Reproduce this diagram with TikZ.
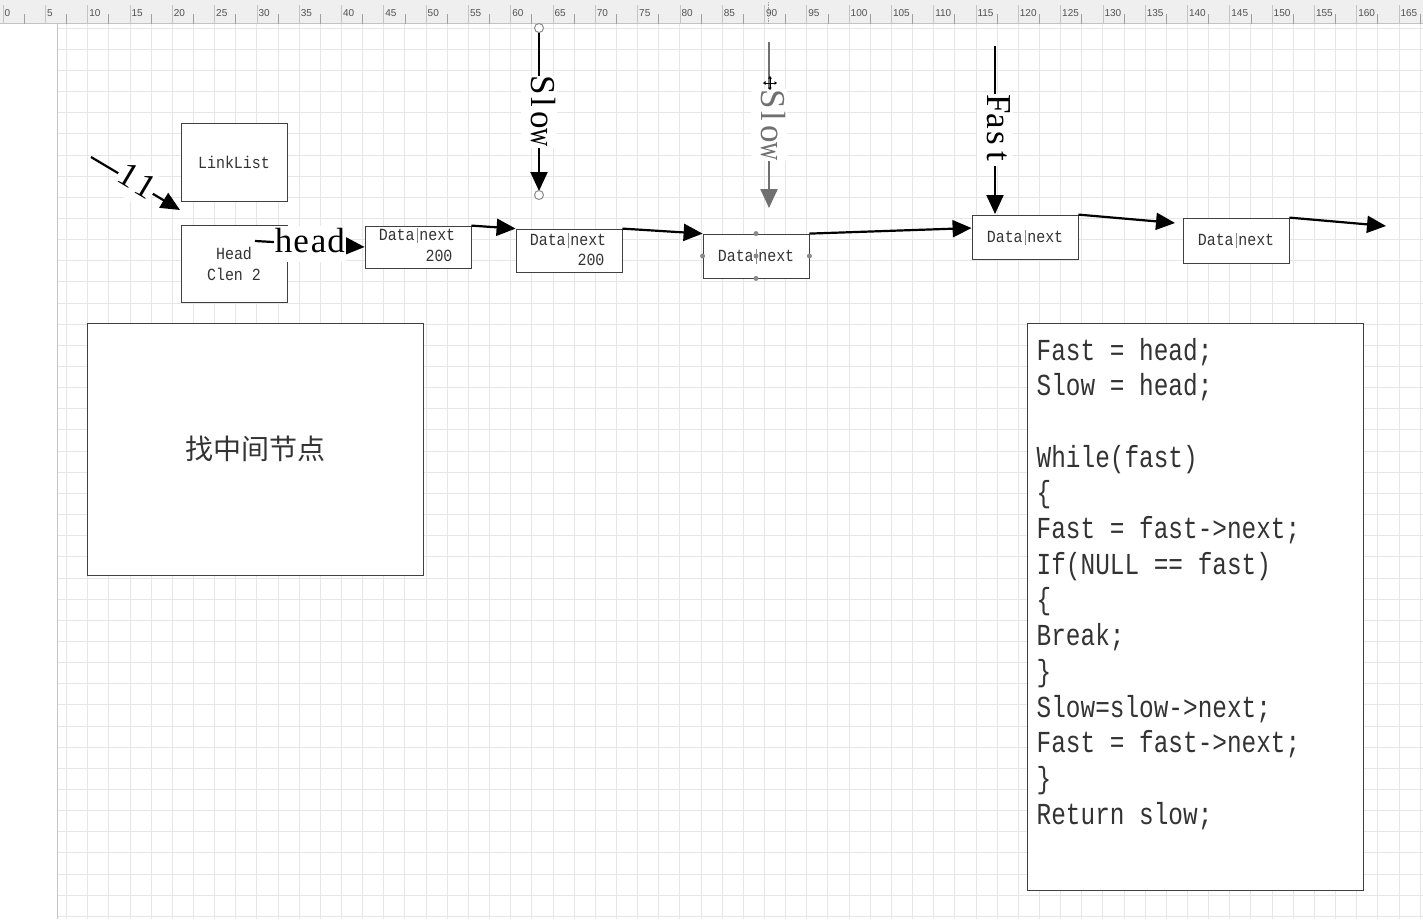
\documentclass[tikz,border=0pt]{standalone}
\usepackage{fontspec}
\usepackage{graphicx}
\setmainfont{Liberation Serif}
\newfontfamily\monof{Liberation Mono}
\newfontfamily\codef[FakeStretch=0.8]{Liberation Mono}
\newfontfamily\boxf[FakeStretch=0.88]{Liberation Mono}
\newfontfamily\cjkf{Noto Sans CJK SC}
\newfontfamily\rulerf{Liberation Sans}
\newfontfamily\spacedf[LetterSpace=12]{Liberation Serif}
\usetikzlibrary{arrows.meta,calc}
\definecolor{gridc}{HTML}{E6E6E6}
\definecolor{rulerbg}{HTML}{EFEFEF}
\definecolor{rulerline}{HTML}{C4C4C4}
\definecolor{rulertick}{HTML}{A0A0A0}
\definecolor{rulertxt}{HTML}{505050}
\definecolor{boxc}{HTML}{404040}
\definecolor{txtc}{HTML}{333333}
\definecolor{sepc}{HTML}{888888}
\definecolor{slowgray}{HTML}{707070}
\definecolor{handlec}{HTML}{8A8A8A}
\newcommand\halfw[1]{\makebox[0.5em]{#1}}
\newcommand\narroww{\makebox[0.5em]{\scalebox{0.72}[1]{w}}}
\newcommand\dsep{\hspace{2.5pt}\textcolor{sepc}{\rule[-2.5pt]{0.6pt}{15pt}}\hspace{1.5pt}}
\begin{document}
\begin{tikzpicture}[x=1pt,y=-1pt,
  box/.style={draw=boxc, fill=white, line width=0.8pt, inner sep=0pt, text=txtc, font=\boxf\fontsize{17}{21}\selectfont},
  boxtext/.style={inner sep=0pt, text=txtc, font=\boxf\fontsize{17}{21}\selectfont},
  link/.style={line width=2.2pt, -{Triangle[length=19pt,width=17pt]}},
  lbl/.style={fill=white, inner sep=1pt, font=\fontsize{35}{40}\selectfont, text height=25pt, text depth=9pt},
  code/.style={anchor=base west, inner sep=0pt, text=txtc, font=\codef\fontsize{30.5}{34}\selectfont},
  handle/.style={circle, fill=handlec, inner sep=0pt, minimum size=5pt},
  endpt/.style={circle, draw=handlec, fill=white, line width=1pt, inner sep=0pt, minimum size=9pt},
  rlabel/.style={anchor=west, inner sep=0pt, font=\rulerf\fontsize{10}{11}\selectfont, text=rulertxt}
]
\useasboundingbox (0,0) rectangle (1423,919);
\fill[white] (0,0) rectangle (1423,919);

% grid
\foreach \k in {3,...,67} {
  \draw[gridc, line width=0.8pt] ({3+21.15*\k},24) -- ({3+21.15*\k},919);
}
\foreach \k in {0,...,42} {
  \draw[gridc, line width=0.8pt] (57,{28+21.15*\k}) -- (1423,{28+21.15*\k});
}
\draw[rulerline, line width=0.8pt] (57,24) -- (57,919);

% ruler
\fill[rulerbg] (0,0) rectangle (1423,23.5);
\draw[rulerline, line width=0.8pt] (0,23.5) -- (1423,23.5);
\foreach \u in {0,5,...,165} {
  \draw[rulerline, line width=0.6pt] ({3+8.46*\u},5) -- ({3+8.46*\u},23.5);
  \draw[rulertick, line width=0.6pt] ({3+8.46*\u+21.15},14) -- ({3+8.46*\u+21.15},23.5);
  \node[rlabel] (r\u) at ({4.5+8.46*\u},13) {\u};
}
\draw[rulertick, densely dotted, line width=0.6pt] (768,2) -- (768,23);

% boxes
\node[box, minimum width=106pt, minimum height=78pt] (LL) at (234,162) {LinkList};
\node[box, minimum width=106pt, minimum height=77pt, align=center] (HD) at (234,263.5) {Head\\Clen 2};
\node[box, minimum width=106pt, minimum height=42pt] (D1) at (418,247) {};
\node[boxtext] (t1) at (417,235) {Data\dsep next};
\node[boxtext] (v1) at (439,256) {200};
\node[box, minimum width=106pt, minimum height=43pt] (D2) at (569,250.5) {};
\node[boxtext] (t2) at (568,240) {Data\dsep next};
\node[boxtext] (v2) at (591,260) {200};
\node[box, minimum width=106pt, minimum height=44pt] (D3) at (756,256) {Data\dsep next};
\node[box, minimum width=106pt, minimum height=44pt] (D4) at (1025,237) {Data\dsep next};
\node[box, minimum width=106pt, minimum height=45pt] (D5) at (1236,240.5) {Data\dsep next};

% selection handles on D3
\node[handle] (h1) at (D3.west) {};
\node[handle] (h2) at (D3.east) {};
\node[handle] (h3) at (D3.north) {};
\node[handle] (h4) at (D3.south) {};
\node[handle] (h5) at (D3.center) {};

% big boxes
\node[box, minimum width=336pt, minimum height=252pt, font=\cjkf\fontsize{28}{34}\selectfont] (BG) at (255,449) {找中间节点};
\node[box, minimum width=336pt, minimum height=567pt] (CB) at (1195,606.5) {};

% code lines
\node[code] (c0) at (1036.5,360) {Fast = head;};
\node[code] (c1) at (1036.5,395.7) {Slow = head;};
\node[code] (c3) at (1036.5,467.1) {While(fast)};
\node[code] (c4) at (1036.5,502.8) {\{};
\node[code] (c5) at (1036.5,538.5) {Fast = fast->next;};
\node[code] (c6) at (1036.5,574.2) {If(NULL == fast)};
\node[code] (c7) at (1036.5,609.9) {\{};
\node[code] (c8) at (1036.5,645.6) {Break;};
\node[code] (c9) at (1036.5,681.3) {\}};
\node[code] (c10) at (1036.5,717) {Slow=slow->next;};
\node[code] (c11) at (1036.5,752.7) {Fast = fast->next;};
\node[code] (c12) at (1036.5,788.4) {\}};
\node[code] (c13) at (1036.5,824.1) {Return slow;};

% connectors between list nodes
\draw[link] (D1.north east) -- (D2.north west);
\draw[link] (D2.north east) -- (D3.north west);
\draw[link] (D3.north east) -- ($(D4.north west)!0.3!(D4.south west)$);
\coordinate (e4) at (1175,223);
\draw[link] (D4.north east) -- (e4);
\coordinate (e5) at (1386,226);
\draw[link] (D5.north east) -- (e5);

% head connector
\coordinate (hs) at (255,241);
\draw[link] (hs) -- node[lbl] (headlbl) {\halfw{h}\halfw{e}\halfw{a}\halfw{d}} (D1.west);

% 11 connector
\coordinate (a11) at (91,157);
\coordinate (b11) at (180,210);
\draw[link] (a11) -- node[lbl, sloped, font=\spacedf\fontsize{35}{40}\selectfont] (lbl11) {11} (b11);

% Slow (first)
\coordinate (s1a) at (539,28);
\coordinate (s1b) at (539,195);
\draw[link, shorten >=4pt] (s1a) -- node[lbl, rotate=-90] (slow1) {\halfw{S}\halfw{l}\halfw{o}\narroww} (s1b);
\node[endpt] (s1top) at (s1a) {};
\node[endpt] (s1bot) at (s1b) {};

% Slow (second, gray)
\coordinate (s2a) at (769,42);
\coordinate (s2b) at (769,208);
\draw[link, color=slowgray] (s2a) -- node[lbl, rotate=-90, text=slowgray] (slow2) {\halfw{S}\halfw{l}\halfw{o}\narroww} (s2b);

% move cursor
\begin{scope}[shift={(770,83)}]
  \foreach \a in {0,90,180,270} {
    \draw[line width=0.8pt, -{Triangle[length=2.5pt,width=3.5pt]}] (0,0) -- (\a:7);
  }
\end{scope}

% Fast
\coordinate (f1) at (995,46);
\coordinate (f2) at (995,214);
\draw[link] (f1) -- node[lbl, rotate=-90] (fastlbl) {\halfw{F}\halfw{a}\halfw{s}\halfw{t}} (f2);

\end{tikzpicture}
\end{document}
